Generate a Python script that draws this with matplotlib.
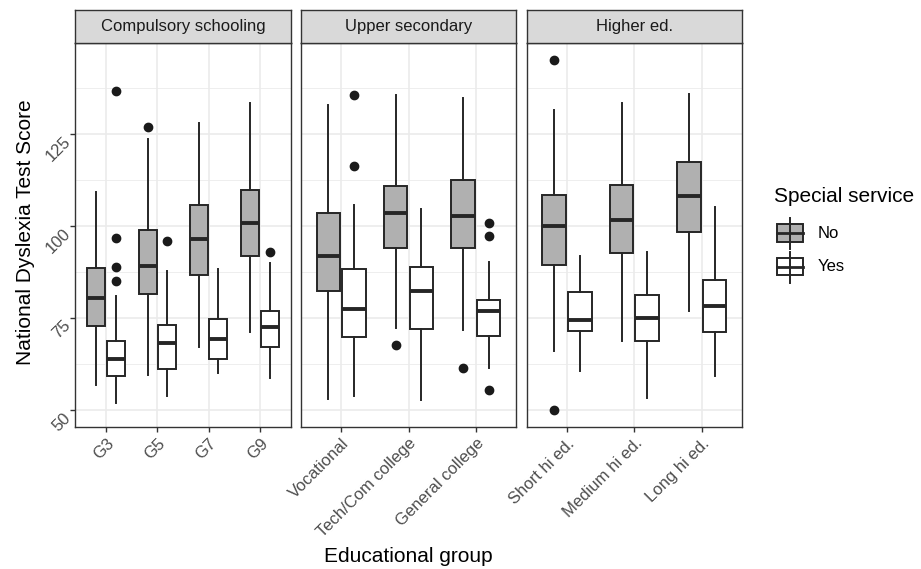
import matplotlib
matplotlib.use("Agg")
import matplotlib.pyplot as plt
from matplotlib.patches import Rectangle
from matplotlib.ticker import FixedLocator, MultipleLocator

plt.rcParams["font.family"] = ["Liberation Sans", "DejaVu Sans"]

panels = ["Compulsory schooling", "Upper secondary", "Higher ed."]
categories = [["G3", "G5", "G7", "G9"],
              ["Vocational", "Tech/Com college", "General college"],
              ["Short hi ed.", "Medium hi ed.", "Long hi ed."]]
services = ["No", "Yes"]

# box summaries, categories in order across the panels
no_low = [56.7, 59.4, 67.0, 71.2, 53.0, 72.2, 71.8, 66.0, 68.8, 76.8]
no_q1 = [72.8, 81.4, 86.7, 91.8, 82.3, 93.9, 93.9, 89.3, 92.7, 98.4]
no_med = [80.4, 89.2, 96.3, 100.8, 91.8, 103.4, 102.7, 100.0, 101.5, 108.1]
no_q3 = [88.5, 98.8, 105.7, 109.8, 103.6, 110.7, 112.3, 108.4, 111.1, 117.2]
no_high = [109.1, 123.5, 127.8, 133.4, 132.8, 135.4, 134.6, 131.3, 133.4, 135.7]
no_out = [[], [126.7], [], [], [], [67.7], [61.5], [145.0, 49.9], [], []]

yes_low = [52.0, 53.7, 60.1, 58.7, 53.7, 52.6, 61.5, 60.6, 53.3, 59.2]
yes_q1 = [59.2, 61.2, 63.8, 67.0, 69.7, 72.1, 70.1, 71.5, 68.7, 71.2]
yes_med = [63.8, 68.2, 69.4, 72.6, 77.4, 82.3, 76.8, 74.3, 75.1, 78.2]
yes_q3 = [68.7, 73.0, 74.8, 76.9, 88.2, 88.7, 79.8, 81.9, 81.1, 85.2]
yes_high = [81.0, 87.8, 88.3, 90.0, 105.7, 104.5, 90.1, 91.8, 92.8, 105.1]
yes_out = [[136.7, 96.6, 88.8, 85.1], [95.8], [], [92.9], [135.6, 116.1],
           [], [100.7, 97.3, 55.4], [], [], []]

y_ticks = [50, 75, 100, 125]

FILLS = ["#B0B0B0", "white"]
LINE = "#262626"
BORDER = "#333333"
GRID = "#EBEBEB"
W, H = 921, 569


def summaries(low, q1, med, q3, high, out):
    return [dict(whislo=a, q1=b, med=c, q3=d, whishi=e, fliers=f)
            for a, b, c, d, e, f in zip(low, q1, med, q3, high, out)]


no_stats = summaries(no_low, no_q1, no_med, no_q3, no_high, no_out)
yes_stats = summaries(yes_low, yes_q1, yes_med, yes_q3, yes_high, yes_out)

fig = plt.figure(figsize=(W / 100, H / 100), dpi=100)
lefts = [75.2, 300.7, 526.6]
pw = 215.6
bot, top, strip_top = 427.3, 42.7, 10.0

start = 0
for p, (name, cats) in enumerate(zip(panels, categories)):
    n = len(cats)
    sl = slice(start, start + n)
    start += n
    ax = fig.add_axes([lefts[p] / W, 1 - bot / H, pw / W, (bot - top) / H])
    ax.set_axisbelow(True)
    xs = list(range(1, n + 1))
    for k, (st, fill) in enumerate(zip([no_stats[sl], yes_stats[sl]], FILLS)):
        off = -0.19 if k == 0 else 0.19
        ax.bxp(st, positions=[x + off for x in xs], widths=0.35,
               patch_artist=True, showcaps=False, manage_ticks=False,
               boxprops=dict(facecolor=fill, edgecolor=LINE, linewidth=1.4),
               medianprops=dict(color=LINE, linewidth=2.8, solid_capstyle="butt"),
               whiskerprops=dict(color=LINE, linewidth=1.4),
               flierprops=dict(marker="o", markerfacecolor="#1A1A1A",
                               markeredgecolor="#1A1A1A", markersize=6))
    ax.set_xlim(0.4, n + 0.6)
    ax.set_ylim(45.3, 149.7)
    ax.set_xticks(xs)
    ax.set_xticklabels(cats, rotation=45, ha="right", va="top",
                       rotation_mode="anchor")
    ax.yaxis.set_major_locator(FixedLocator(y_ticks))
    ax.yaxis.set_minor_locator(MultipleLocator(25, offset=12.5))
    ax.grid(which="major", color=GRID, lw=1.2)
    ax.grid(which="minor", axis="y", color=GRID, lw=0.6)
    ax.tick_params(which="major", length=3.6, width=1.0, color=BORDER,
                   labelcolor="#4D4D4D", labelsize=12, pad=2.5)
    ax.tick_params(which="minor", length=0)
    if p == 0:
        ax.tick_params(axis="y", pad=5.5)
        for lab in ax.get_yticklabels():
            lab.set_rotation(45)
            lab.set_ha("right")
            lab.set_va("top")
            lab.set_rotation_mode("anchor")
    else:
        ax.tick_params(axis="y", left=False, labelleft=False)
    for s in ax.spines.values():
        s.set_color(BORDER)
        s.set_linewidth(1.0)

    sax = fig.add_axes([lefts[p] / W, 1 - top / H, pw / W, (top - strip_top) / H])
    sax.set_facecolor("#D9D9D9")
    sax.set_xticks([])
    sax.set_yticks([])
    for s in sax.spines.values():
        s.set_color(BORDER)
        s.set_linewidth(1.0)
    sax.text(0.5, 0.5, name, ha="center", va="center", size=12,
             color="#1A1A1A", transform=sax.transAxes)

fig.text(26 / W, 1 - 232 / H, "National Dyslexia Test Score", rotation=90,
         ha="center", va="center", size=15)
fig.text(408 / W, 1 - 556 / H, "Educational group", ha="center",
         va="center", size=15)

# legend drawn by hand in pixel coordinates
lax = fig.add_axes([0, 0, 1, 1])
lax.set_xlim(0, W)
lax.set_ylim(H, 0)
lax.axis("off")
lax.text(774.3, 196.7, "Special service", ha="left", va="center", size=15)
for lab, fill, cy in zip(services, FILLS, [233.0, 266.5]):
    cx = 789.7
    lax.plot([cx, cx], [cy - 15, cy + 16], color=LINE, lw=1.4)
    lax.add_patch(Rectangle((776.7, cy - 8.8), 26, 17.6, facecolor=fill,
                            edgecolor=LINE, lw=1.4))
    lax.plot([776.7, 802.7], [cy, cy], color=LINE, lw=2.0)
    lax.text(818, cy, lab, ha="left", va="center", size=12)

fig.savefig("out.png", dpi=100)
